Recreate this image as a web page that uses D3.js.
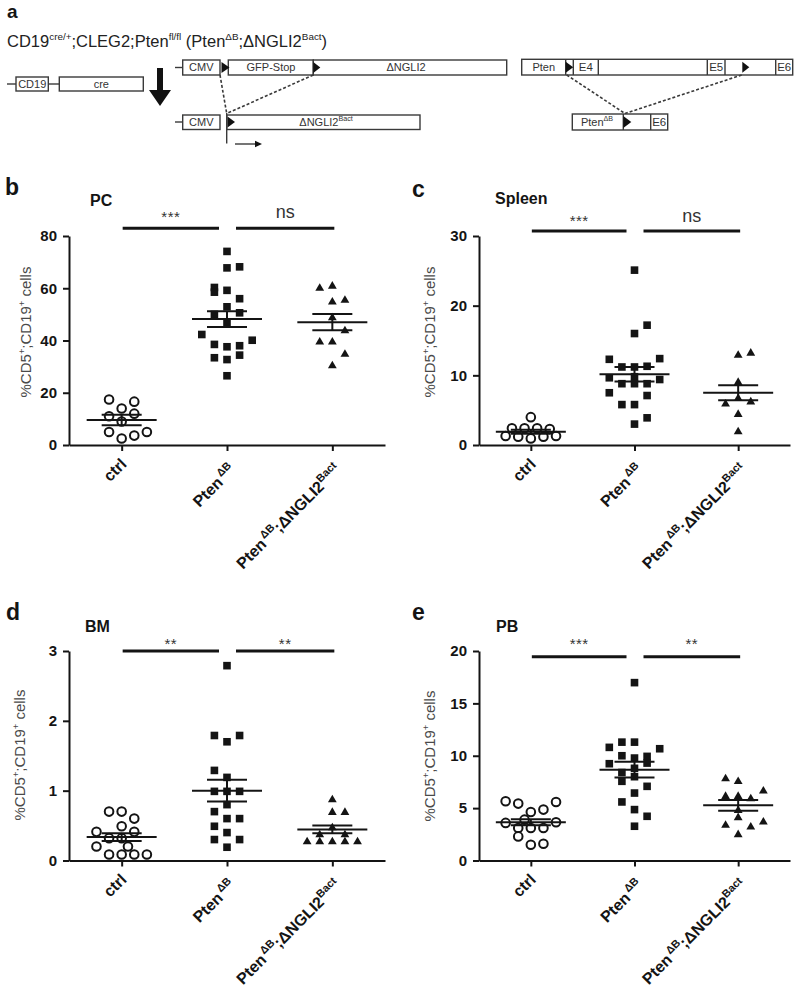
<!DOCTYPE html>
<html><head><meta charset="utf-8">
<script src="https://cdn.jsdelivr.net/npm/d3@7"></script>
<style>
body{margin:0;background:#fff}
svg{display:block}
text{font-family:"Liberation Sans",Arial,Helvetica,sans-serif}
</style>
</head><body>
<svg id="c" width="794" height="987"></svg>
<script>
// ---------- DATA ----------
const categories = ["ctrl", "PtenΔB", "PtenΔB;ΔNGLI2Bact"];

// PC
const pcTicks = [0, 20, 40, 60, 80];
const pcCtrl = [17.4, 16.6, 14.0, 12.0, 11.0, 9.0, 5.0, 5.0, 3.6, 2.5];
const pcCtrlJit = [-1, 1, 0, 1, -1, 0, -1, 2, 1, 0];
const pcPten = [74.1, 67.8, 68.2, 60.3, 58.5, 59.2, 56.0, 52.9, 50.0, 50.6, 46.5, 42.3, 40.1, 38.5, 37.6, 38.0, 34.4, 33.4, 32.7, 26.5];
const pcPtenJit = [0, 0, 1, -1, -1, 0, 1, 0, -1, 1, 0, -2, 2, -1, 0, 1, 1, -1, 0, 0];
const pcDouble = [61.1, 60.3, 55.7, 55.0, 49.0, 44.0, 39.7, 39.7, 35.0, 30.6];
const pcDoubleJit = [0, -1, 1, 0, 0, 1, -1, 0, 1, 0];
const pcMean = [9.55, 48.2, 47.0];
const pcSem = [2.0, 3.0, 3.1];
const pcSig = ["***", "ns"];

// Spleen
const spleenTicks = [0, 10, 20, 30];
const spleenCtrl = [4.0, 2.4, 2.4, 2.4, 2.3, 1.3, 1.2, 0.95, 1.2, 1.3];
const spleenCtrlJit = [0, -1.5, -0.5, 0.5, 1.5, -2, -1, 0, 1, 2];
const spleenPten = [25.1, 17.2, 16.0, 12.3, 12.4, 11.2, 11.2, 11.3, 9.65, 9.4, 8.8, 9.8, 8.8, 8.8, 7.5, 7.1, 5.8, 5.8, 3.9, 3.0];
const spleenPtenJit = [0, 1, 0, -2, 2, -1, 0, 1, -2, 2, -1, 0, 0, 1, -2, 1, -1, 0, 1, 0];
const spleenDouble = [13.0, 13.3, 9.1, 6.8, 6.0, 6.3, 4.5, 2.0];
const spleenDoubleJit = [0, 1, 0, 0, -1, 1, 0, 0];
const spleenMean = [1.9, 10.15, 7.5];
const spleenSem = [0.3, 1.05, 1.08];
const spleenSig = ["***", "ns"];

// BM
const bmTicks = [0, 1, 2, 3];
const bmCtrl = [0.70, 0.70, 0.60, 0.49, 0.41, 0.41, 0.32, 0.32, 0.20, 0.20, 0.086, 0.086, 0.086, 0.086];
const bmCtrlJit = [-1, 0, 1, 0, -2, 1, -1, 0, -2, 0.5, -1, 0, 1, 2];
const bmPten = [2.79, 1.79, 1.79, 1.70, 1.29, 1.19, 0.99, 0.99, 0.99, 0.80, 0.70, 0.60, 0.60, 0.49, 0.40, 0.30, 0.30, 0.19];
const bmPtenJit = [0, -1, 1, 0, -1, 0, -1, 0, 1, 0, -1, 0, 1, -1, 0, -1, 1, 0];
const bmDouble = [0.88, 0.70, 0.70, 0.48, 0.38, 0.38, 0.28, 0.28, 0.28, 0.28, 0.28];
const bmDoubleJit = [0, 0, 1, 0, -1, 1, -2, -1, 0, 1, 2];
const bmMean = [0.335, 1.0, 0.445];
const bmSem = [0.055, 0.155, 0.055];
const bmSig = ["**", "**"];

// PB
const pbTicks = [0, 5, 10, 15, 20];
const pbCtrl = [5.65, 5.43, 5.59, 4.86, 4.63, 3.9, 3.59, 3.65, 3.1, 3.1, 3.1, 2.3, 1.5, 1.6];
const pbCtrlJit = [-2, -1, 2, 1, 0, -0.5, -2, 2, -1, 0, 1, -1, 0, 1];
const pbPten = [16.98, 11.3, 11.3, 10.8, 10.67, 10.0, 9.78, 9.94, 9.24, 9.3, 8.8, 8.4, 8.0, 7.56, 7.08, 6.44, 5.59, 4.86, 4.22, 3.27];
const pbPtenJit = [0, -1, 0, -2, 2, -1, 0, 1, -2, 1, 0, -1, 0, -1, 1, 0, -1, 0, 1, 0];
const pbDouble = [7.87, 7.62, 6.7, 6.19, 6.19, 5.97, 4.86, 4.16, 3.75, 3.43, 3.27, 2.54];
const pbDoubleJit = [-1, 0, 2, -1, 0, 1, 0, 0, 2, -1, 1, 0];
const pbMean = [3.65, 8.67, 5.27];
const pbSem = [0.29, 0.75, 0.51];
const pbSig = ["***", "**"];

// ---------- DRAW ----------
const svg = d3.select("#c");
const INK = "#141414";

function rich(textSel, segs, fs, supScale = 0.62, raise = 0.42) {
  let shift = 0;
  segs.forEach(s => {
    const target = s.sup ? -raise * fs : 0;
    const t = textSel.append("tspan").attr("dy", target - shift).text(s.t);
    if (s.sup) t.attr("font-size", fs * supScale);
    if (s.dx) t.attr("dx", s.dx);
    shift = target;
  });
}

const xLabelSegs = [
  [{t: "ctrl"}],
  [{t: "Pten"}, {t: "ΔB", sup: true, dx: 2}],
  [{t: "Pten"}, {t: "ΔB", sup: true, dx: 2}, {t: ";ΔNGLI2"}, {t: "Bact", sup: true}]
];

const panels = [
  {letter: "b", title: "PC", data: [pcCtrl, pcPten, pcDouble], jit: [pcCtrlJit, pcPtenJit, pcDoubleJit],
   mean: pcMean, sem: pcSem, domain: [0, 80], ticks: pcTicks, sig: pcSig, sigAt: 83,
   left: 69, right: 385, top: 236, bottom: 445, lx: 5, ly: 195, tx: 90, ty: 206, yx: 31, yy: 332, so: -15},
  {letter: "c", title: "Spleen", data: [spleenCtrl, spleenPten, spleenDouble], jit: [spleenCtrlJit, spleenPtenJit, spleenDoubleJit],
   mean: spleenMean, sem: spleenSem, domain: [0, 30], ticks: spleenTicks, sig: spleenSig, sigAt: 30.7,
   left: 479, right: 790, top: 236, bottom: 445, lx: 412, ly: 197, tx: 495, ty: 204, yx: 435, yy: 332, so: -14},
  {letter: "d", title: "BM", data: [bmCtrl, bmPten, bmDouble], jit: [bmCtrlJit, bmPtenJit, bmDoubleJit],
   mean: bmMean, sem: bmSem, domain: [0, 3], ticks: bmTicks, sig: bmSig, sigAt: 3.0,
   left: 69, right: 385, top: 651, bottom: 860.5, lx: 6, ly: 620, tx: 85, ty: 632, yx: 25, yy: 755, so: -10.5},
  {letter: "e", title: "PB", data: [pbCtrl, pbPten, pbDouble], jit: [pbCtrlJit, pbPtenJit, pbDoubleJit],
   mean: pbMean, sem: pbSem, domain: [0, 20], ticks: pbTicks, sig: pbSig, sigAt: 19.45,
   left: 479, right: 790, top: 651, bottom: 860.5, lx: 412, ly: 620, tx: 496, ty: 632, yx: 435, yy: 756, so: -16}
];

function triPath(cx, cy) {
  const p = d3.path();
  p.moveTo(cx, cy - 4.3); p.lineTo(cx + 4.4, cy + 3.3); p.lineTo(cx - 4.4, cy + 3.3); p.closePath();
  return p.toString();
}

panels.forEach(cfg => {
  const g = svg.append("g");
  const x = d3.scalePoint().domain(categories).range([cfg.left, cfg.right]).padding(0.5);
  const y = d3.scaleLinear().domain(cfg.domain).range([cfg.bottom, cfg.top]);
  const jit = d3.scaleLinear().domain([0, 1]).range([0, 12.6]);

  // panel letter & title
  g.append("text").attr("x", cfg.lx).attr("y", cfg.ly).attr("font-size", 23).attr("font-weight", "bold").attr("fill", INK).text(cfg.letter);
  g.append("text").attr("x", cfg.tx).attr("y", cfg.ty).attr("font-size", 16).attr("font-weight", "bold").attr("fill", INK).text(cfg.title);

  // y axis
  const ya = g.append("g").attr("transform", `translate(${cfg.left},0)`)
    .call(d3.axisLeft(y).tickValues(cfg.ticks).tickSize(6).tickSizeOuter(0).tickPadding(6).tickFormat(d3.format("d")));
  ya.select(".domain").attr("stroke", INK).attr("stroke-width", 2);
  ya.selectAll(".tick line").attr("stroke", INK).attr("stroke-width", 2);
  ya.selectAll(".tick text").attr("font-size", 15).attr("font-weight", "bold").attr("fill", INK)
    .attr("font-family", "Liberation Sans, Arial, sans-serif");

  // x axis
  const xa = g.append("g").attr("transform", `translate(0,${cfg.bottom})`)
    .call(d3.axisBottom(x).tickSize(6).tickSizeOuter(0).tickFormat(""));
  xa.select(".domain").attr("stroke", INK).attr("stroke-width", 2);
  xa.selectAll(".tick line").attr("stroke", INK).attr("stroke-width", 2);

  // x labels
  categories.forEach((c, i) => {
    const hasSup = xLabelSegs[i].some(s => s.sup);
    const ax = x(c) + (hasSup ? 9.5 : 6);
    const ay = cfg.bottom + (hasSup ? 26 : 20);
    const t = g.append("text")
      .attr("transform", `translate(${ax},${ay}) rotate(-45)`)
      .attr("text-anchor", "end").attr("font-size", 16).attr("font-weight", "bold").attr("fill", INK);
    rich(t, xLabelSegs[i], 16, 0.68, 0.42);
  });

  // y title
  const yt = g.append("text")
    .attr("transform", `translate(${cfg.yx},${cfg.yy}) rotate(-90)`)
    .attr("text-anchor", "middle").attr("font-size", 15).attr("fill", "#4a4a4a");
  rich(yt, [{t: "%CD5"}, {t: "+", sup: true}, {t: ";CD19"}, {t: "+", sup: true}, {t: " cells"}], 15, 0.62, 0.42);

  // points
  cfg.data.forEach((vals, gi) => {
    const cx0 = x(categories[gi]);
    vals.forEach((v, k) => {
      const cx = cx0 + jit(cfg.jit[gi][k]);
      const cy = y(v);
      if (gi === 0) {
        g.append("circle").attr("cx", cx).attr("cy", cy).attr("r", 4.3)
          .attr("fill", "#fff").attr("stroke", INK).attr("stroke-width", 2);
      } else if (gi === 1) {
        g.append("rect").attr("x", cx - 3.8).attr("y", cy - 3.8).attr("width", 7.6).attr("height", 7.6).attr("fill", INK);
      } else {
        g.append("path").attr("d", triPath(cx, cy)).attr("fill", INK);
      }
    });
  });

  // mean +/- SEM
  categories.forEach((c, i) => {
    const cx = x(c), m = cfg.mean[i], s = cfg.sem[i];
    const line = (x1, y1, x2, y2) => g.append("line").attr("x1", x1).attr("y1", y1).attr("x2", x2).attr("y2", y2)
      .attr("stroke", INK).attr("stroke-width", 2);
    line(cx - 35, y(m), cx + 35, y(m));
    line(cx - 20, y(m + s), cx + 20, y(m + s));
    line(cx - 20, y(m - s), cx + 20, y(m - s));
    line(cx, y(m + s), cx, y(m - s));
  });

  // significance bars
  const by = y(cfg.sigAt);
  const pairs = [[x(categories[0]) + 1, x(categories[1]) - 8], [x(categories[1]) + 9, x(categories[2]) + 2]];
  pairs.forEach((p, i) => {
    g.append("line").attr("x1", p[0]).attr("x2", p[1]).attr("y1", by).attr("y2", by)
      .attr("stroke", INK).attr("stroke-width", 3);
    const lab = cfg.sig[i];
    const isNs = lab === "ns";
    g.append("text").attr("x", (p[0] + p[1]) / 2).attr("y", by + cfg.so + (isNs ? 4.7 : 8.6))
      .attr("text-anchor", "middle").attr("font-size", isNs ? 18 : 15).attr("fill", "#333")
      .attr("letter-spacing", isNs ? 0 : 0.5).text(lab);
  });
});

// ---------- PANEL a: schematic ----------
const A = svg.append("g");
const BOX = "#3a3a3a";
A.append("text").attr("x", 7).attr("y", 17.5).attr("font-size", 19).attr("font-weight", "bold").attr("fill", INK).text("a");
const ttl = A.append("text").attr("x", 7).attr("y", 46.5).attr("font-size", 16.5).attr("fill", "#222");
rich(ttl, [{t: "CD19"}, {t: "cre/+", sup: true}, {t: ";CLEG2;Pten"}, {t: "fl/fl", sup: true},
  {t: " (Pten"}, {t: "ΔB", sup: true}, {t: ";ΔNGLI2"}, {t: "Bact", sup: true}, {t: ")"}], 16.5, 0.6, 0.42);

function ln(x1, y1, x2, y2, dash) {
  const l = A.append("line").attr("x1", x1).attr("y1", y1).attr("x2", x2).attr("y2", y2)
    .attr("stroke", BOX).attr("stroke-width", 1.4);
  if (dash) l.attr("stroke-dasharray", "3,2").attr("stroke-width", 1.6);
  return l;
}
function box(x1, y1, x2, y2) {
  A.append("rect").attr("x", x1).attr("y", y1).attr("width", x2 - x1).attr("height", y2 - y1)
    .attr("fill", "#fff").attr("stroke", BOX).attr("stroke-width", 1.4);
}
function lbl(x, yc, segs, fs) {
  const t = A.append("text").attr("x", x).attr("y", yc + fs * 0.36).attr("text-anchor", "middle")
    .attr("font-size", fs).attr("fill", "#333");
  rich(t, segs, fs, 0.65, 0.42);
}
function lox(x1, yc, w, h) {
  const p = d3.path();
  p.moveTo(x1, yc - h / 2); p.lineTo(x1 + w, yc); p.lineTo(x1, yc + h / 2); p.closePath();
  A.append("path").attr("d", p.toString()).attr("fill", "#111");
}

// CD19-cre
ln(7, 84, 16, 84); box(16, 77, 48.3, 91); lbl(32.2, 84, [{t: "CD19"}], 11);
ln(48.3, 84, 59.3, 84); box(59.3, 77, 143.3, 91); lbl(101.3, 84, [{t: "cre"}], 11);

// big arrow
{
  const p = d3.path();
  p.moveTo(157, 68); p.lineTo(163, 68); p.lineTo(163, 90); p.lineTo(171, 90); p.lineTo(160, 106);
  p.lineTo(149, 90); p.lineTo(157, 90); p.closePath();
  A.append("path").attr("d", p.toString()).attr("fill", "#111");
}

// CLEG2 transgene (before)
ln(175, 67.5, 182.7, 67.5);
box(182.7, 60, 220, 75); lbl(201.3, 67.5, [{t: "CMV"}], 11);
box(228.3, 60, 313.3, 75); lbl(271, 67.5, [{t: "GFP-Stop"}], 11);
box(313.3, 60, 506.7, 75); lbl(406, 67.5, [{t: "ΔNGLI2"}], 11);
lox(221.5, 67.5, 8, 11); lox(313.3, 67.5, 7, 11);

// dashed recombination lines
ln(220, 75, 226.7, 113.5, true);
ln(313.3, 75, 226.7, 113.5, true);

// CLEG2 after
ln(175, 122, 182.7, 122);
box(182.7, 115, 220, 129.5); lbl(201.3, 122, [{t: "CMV"}], 11);
box(226.7, 115, 420, 129.5); lbl(326, 122, [{t: "ΔNGLI2"}, {t: "Bact", sup: true}], 11);
ln(226.7, 113, 226.7, 143.5);
lox(227.5, 122, 7.5, 11);
ln(235, 144, 258, 144);
{
  const p = d3.path();
  p.moveTo(262, 144); p.lineTo(255, 140.8); p.lineTo(255, 147.2); p.closePath();
  A.append("path").attr("d", p.toString()).attr("fill", "#111");
}

// Pten floxed allele
box(521.7, 59.3, 792.7, 75);
lbl(543.7, 67.2, [{t: "Pten"}], 11);
[565.7, 573.3, 598.3, 707.3, 725, 775.7].forEach(xx => ln(xx, 59.3, xx, 75));
lbl(585.8, 67.2, [{t: "E4"}], 11.5);
lbl(716.2, 67.2, [{t: "E5"}], 11.5);
lbl(784.2, 67.2, [{t: "E6"}], 11.5);
lox(565.7, 67.2, 7.5, 11); lox(742.3, 67.2, 7, 11);

ln(566.7, 75, 625, 113.5, true);
ln(741.7, 75, 625, 113.5, true);

// Pten deleted allele
box(572.3, 114, 667.7, 130);
ln(623.3, 114, 623.3, 130); ln(650.7, 114, 650.7, 130);
lbl(597, 122, [{t: "Pten"}, {t: "ΔB", sup: true}], 11);
lbl(659.2, 122, [{t: "E6"}], 11.5);
lox(623.3, 122, 8, 12);
</script>
</body></html>
